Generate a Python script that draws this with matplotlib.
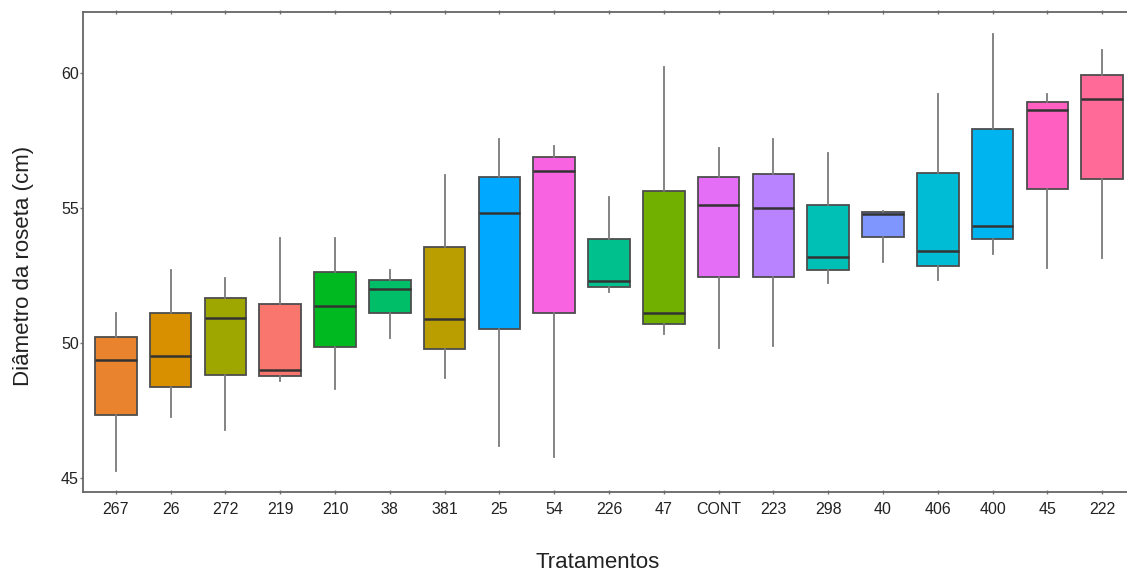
import matplotlib
matplotlib.use('Agg')
import matplotlib.pyplot as plt

plt.rcParams['font.family'] = ['Liberation Sans', 'DejaVu Sans']

# tratamentos, ordered as on the x axis
tratamentos = ['267', '26', '272', '219', '210', '38', '381', '25', '54', '226',
               '47', 'CONT', '223', '298', '40', '406', '400', '45', '222']

# box statistics (cm)
wlo = [45.26, 47.25, 46.78, 48.59, 48.30, 50.17, 48.69, 46.19, 45.77, 51.90,
       50.32, 49.80, 49.90, 52.21, 52.99, 52.33, 53.30, 52.79, 53.14]
q1 = [47.33, 48.36, 48.83, 48.78, 49.85, 51.10, 49.78, 50.52, 51.10, 52.09,
      50.69, 52.46, 52.46, 52.70, 53.92, 52.85, 53.84, 55.72, 56.09]
med = [49.37, 49.52, 50.91, 49.00, 51.38, 51.99, 50.89, 54.80, 56.38, 52.30,
       51.10, 55.11, 54.99, 53.20, 54.78, 53.41, 54.35, 58.63, 59.04]
q3 = [50.21, 51.12, 51.68, 51.44, 52.64, 52.33, 53.54, 56.16, 56.88, 53.85,
      55.64, 56.16, 56.26, 55.11, 54.86, 56.31, 57.93, 58.91, 59.93]
whi = [51.10, 52.70, 52.40, 53.90, 53.90, 52.70, 56.22, 57.54, 57.31, 55.42,
       60.23, 57.23, 57.54, 57.02, 54.90, 59.21, 61.44, 59.21, 60.85]

cores = ['#EA832E', '#D89000', '#9EA700', '#F8766D', '#00B81F', '#00BE67',
         '#BA9E00', '#00A9FF', '#F763E0', '#00C08D', '#72B000', '#E46EF6',
         '#B983FF', '#00BFB5', '#7F96FF', '#00BCD4', '#00B4EF', '#FF5FC0',
         '#FF6A98']

stats = []
for i, t in enumerate(tratamentos):
    stats.append({'label': t, 'whislo': wlo[i], 'q1': q1[i], 'med': med[i],
                  'q3': q3[i], 'whishi': whi[i], 'fliers': []})

fig = plt.figure(figsize=(11.27, 5.75), dpi=100)
ax = fig.add_axes([83/1127, 1 - 492/575, 1052/1127, 480/575])

pos = list(range(len(tratamentos)))
bp = ax.bxp(stats, positions=pos, widths=0.76, patch_artist=True,
            showcaps=False, manage_ticks=False,
            boxprops=dict(edgecolor='#4d4d4d', linewidth=1.3),
            medianprops=dict(color='#333333', linewidth=1.8),
            whiskerprops=dict(color='#7a7a7a', linewidth=1.3))
for patch, c in zip(bp['boxes'], cores):
    patch.set_facecolor(c)

ax.set_xlim(-0.6, 18.6)
ax.set_ylim(44.48, 62.26)
ax.set_xticks(pos)
ax.set_xticklabels(tratamentos, fontsize=11.5, color='#222222')
ax.set_yticks([45, 50, 55, 60])
ax.set_yticklabels(['45', '50', '55', '60'], fontsize=11.5, color='#222222')
ax.tick_params(axis='x', length=3, width=1, color='#777777', pad=6)
ax.tick_params(axis='y', length=2, width=1, color='#777777', pad=1)
ax.tick_params(axis='x', top=True, direction='inout')

for s in ['left', 'top', 'bottom']:
    ax.spines[s].set_color('#666666')
    ax.spines[s].set_linewidth(1.3)
ax.spines['right'].set_visible(False)

# label positions tuned to the reference
ax.set_xlabel('Tratamentos', fontsize=16, color='#222222')
ax.xaxis.set_label_coords(0.4895, -0.125)
ax.set_ylabel('Diâmetro da roseta (cm)', fontsize=16, color='#222222')
ax.yaxis.set_label_coords(-0.047, 0.471)

fig.savefig('out.png', dpi=100)
